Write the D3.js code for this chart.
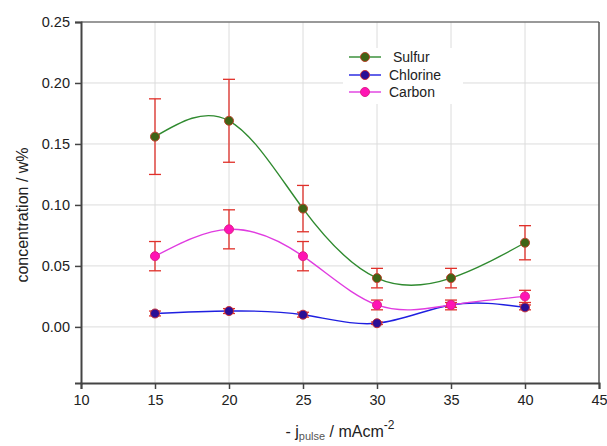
<!DOCTYPE html>
<html>
<head>
<meta charset="utf-8">
<script src="https://cdn.jsdelivr.net/npm/d3@7"></script>
<style>
	body { margin: 0; background: #fff; }
	text { font-family: "Liberation Sans", Arial, sans-serif; fill: #222; }
</style>
</head>
<body>
<div class="chart"></div>
<script>
// values
var currents = [15, 20, 25, 30, 35, 40];
var sulfur = [0.156, 0.169, 0.097, 0.040, 0.040, 0.069];
var sulfurErr = [0.031, 0.034, 0.019, 0.008, 0.008, 0.014];
var chlorine = [0.011, 0.013, 0.010, 0.003, 0.018, 0.016];
var chlorineErr = [0.002, 0.002, 0.002, 0.001, 0.002, 0.002];
var carbon = [0.058, 0.080, 0.058, 0.018, 0.018, 0.025];
var carbonErr = [0.012, 0.016, 0.012, 0.004, 0.004, 0.005];
var xTicks = [10, 15, 20, 25, 30, 35, 40, 45];
var yTicks = [0, 0.05, 0.10, 0.15, 0.20, 0.25];

var series = [
	{name: "Sulfur", vals: sulfur, err: sulfurErr, line: "#2f8a2f", fill: "#3f6416", edge: "#b8442a"},
	{name: "Chlorine", vals: chlorine, err: chlorineErr, line: "#1f1fe0", fill: "#2a0f96", edge: "#c8303a"},
	{name: "Carbon", vals: carbon, err: carbonErr, line: "#e03ce0", fill: "#ff14b4", edge: "#e0208a"}
];

var width = 607, height = 446;
var svg = d3.select(".chart").append("svg")
	.attr("width", width)
	.attr("height", height);

var x = d3.scaleLinear().domain([10, 45]).range([81, 599]);
var y = d3.scaleLinear().domain([-0.046, 0.25]).range([383, 22]);

// grid
var grid = svg.append("g").attr("class", "grid");
grid.selectAll(".vg").data(xTicks.slice(1, -1)).enter().append("line")
	.attr("x1", function(d){ return x(d) }).attr("x2", function(d){ return x(d) })
	.attr("y1", y.range()[0]).attr("y2", y.range()[1])
	.attr("stroke", "#dcdcdc").attr("stroke-width", 1);
grid.selectAll(".hg").data(yTicks.slice(0, -1)).enter().append("line")
	.attr("x1", x.range()[0]).attr("x2", x.range()[1])
	.attr("y1", function(d){ return y(d) }).attr("y2", function(d){ return y(d) })
	.attr("stroke", "#dcdcdc").attr("stroke-width", 1);

// frame (top and right)
svg.append("line").attr("x1", x(10)).attr("x2", x(45)).attr("y1", y(0.25)).attr("y2", y(0.25))
	.attr("stroke", "#777").attr("stroke-width", 1.5);
svg.append("line").attr("x1", x(45)).attr("x2", x(45)).attr("y1", y(0.25)).attr("y2", y.range()[0])
	.attr("stroke", "#555").attr("stroke-width", 1.5);

// legend background
var lg = svg.append("g").attr("class", "legend");
lg.append("rect").attr("x", 343).attr("y", 48).attr("width", 120).attr("height", 56).attr("fill", "#fff");

// curves
var curve = d3.line()
	.x(function(d){ return x(d[0]) })
	.y(function(d){ return y(d[1]) })
	.curve(d3.curveNatural);

series.forEach(function(s) {
	var pts = currents.map(function(c, i){ return [c, s.vals[i]] });
	svg.append("path")
		.attr("d", curve(pts))
		.attr("fill", "none")
		.attr("stroke", s.line)
		.attr("stroke-width", 1.4);
});

// error bars and markers
series.forEach(function(s) {
	var g = svg.append("g");
	currents.forEach(function(c, i) {
		var cx = x(c), top = y(s.vals[i] + s.err[i]), bot = y(s.vals[i] - s.err[i]);
		g.append("line").attr("x1", cx).attr("x2", cx).attr("y1", top).attr("y2", bot)
			.attr("stroke", "#e0302a").attr("stroke-width", 1.3);
		[top, bot].forEach(function(yy) {
			g.append("line").attr("x1", cx - 6).attr("x2", cx + 6).attr("y1", yy).attr("y2", yy)
				.attr("stroke", "#e0302a").attr("stroke-width", 1.3);
		});
	});
	g.selectAll("circle").data(s.vals).enter().append("circle")
		.attr("cx", function(d, i){ return x(currents[i]) })
		.attr("cy", function(d){ return y(d) })
		.attr("r", 4.5)
		.attr("fill", s.fill)
		.attr("stroke", s.edge)
		.attr("stroke-width", 1);
});

// axes
var xAxis = d3.axisBottom(x).tickValues(xTicks).tickSize(6).tickPadding(6).tickFormat(d3.format("d"));
var yAxis = d3.axisLeft(y).tickValues(yTicks).tickSize(6).tickPadding(5).tickFormat(d3.format(".2f"));

var gx = svg.append("g").attr("transform", "translate(0," + y.range()[0] + ")").call(xAxis);
var gy = svg.append("g").attr("transform", "translate(" + x.range()[0] + ",0)").call(yAxis);
[gx, gy].forEach(function(g) {
	g.select(".domain").attr("stroke", "#444").attr("stroke-width", 2);
	g.selectAll(".tick line").attr("stroke", "#444").attr("stroke-width", 1.5);
	g.selectAll(".tick text").attr("font-size", 14.5).attr("fill", "#222")
		.attr("font-family", "Liberation Sans, Arial, sans-serif");
});

// axis titles
svg.append("text")
	.attr("transform", "translate(28,215) rotate(-90)")
	.attr("text-anchor", "middle")
	.attr("font-size", 16)
	.text("concentration / w%");

var xt = svg.append("text")
	.attr("x", 340).attr("y", 437)
	.attr("text-anchor", "middle")
	.attr("font-size", 16);
xt.append("tspan").text("- j");
xt.append("tspan").attr("font-size", 11).attr("dy", 3).attr("fill", "#555").text("pulse");
xt.append("tspan").attr("dy", -3).text(" / mAcm");
xt.append("tspan").attr("font-size", 12).attr("dy", -8).text("-2");

// legend entries
var legY = [57, 75, 92];
series.forEach(function(s, i) {
	lg.append("line").attr("x1", 349).attr("x2", 381).attr("y1", legY[i]).attr("y2", legY[i])
		.attr("stroke", s.line).attr("stroke-width", 1.4);
	lg.append("circle").attr("cx", 365).attr("cy", legY[i]).attr("r", 4.5)
		.attr("fill", s.fill).attr("stroke", s.edge).attr("stroke-width", 1);
	lg.append("text").attr("x", i === 0 ? 393 : 389).attr("y", legY[i] + 5)
		.attr("font-size", 14).text(s.name);
});
</script>
</body>
</html>
